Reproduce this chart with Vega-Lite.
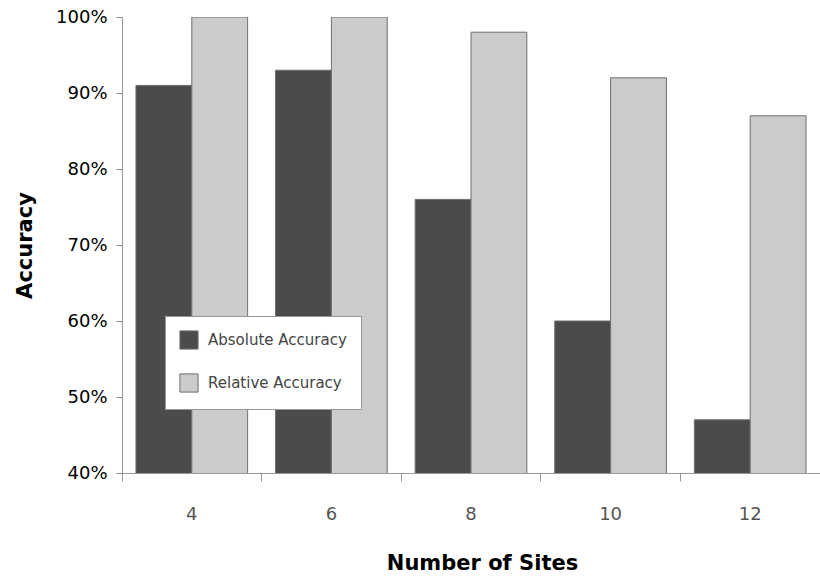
{
  "$schema": "https://vega.github.io/schema/vega-lite/v6.json",
  "autosize": {"type": "none"},
  "padding": {"left": 122, "top": 17, "right": 0, "bottom": 104},
  "width": 698,
  "height": 456,
  "background": "white",
  "config": {
    "view": {"stroke": null},
    "font": "DejaVu Sans"
  },
  "data": {
    "values": [
      {"sites": 4, "type": "Absolute Accuracy", "value": 91},
      {"sites": 4, "type": "Relative Accuracy", "value": 100},
      {"sites": 6, "type": "Absolute Accuracy", "value": 93},
      {"sites": 6, "type": "Relative Accuracy", "value": 100},
      {"sites": 8, "type": "Absolute Accuracy", "value": 76},
      {"sites": 8, "type": "Relative Accuracy", "value": 98},
      {"sites": 10, "type": "Absolute Accuracy", "value": 60},
      {"sites": 10, "type": "Relative Accuracy", "value": 92},
      {"sites": 12, "type": "Absolute Accuracy", "value": 47},
      {"sites": 12, "type": "Relative Accuracy", "value": 87}
    ]
  },
  "mark": {"type": "bar", "stroke": "#6e6e6e", "strokeWidth": 1, "clip": true},
  "encoding": {
    "x": {
      "field": "sites",
      "type": "ordinal",
      "scale": {"paddingInner": 0, "paddingOuter": 0},
      "axis": {
        "title": "Number of Sites",
        "titleFont": "DejaVu Sans",
        "titleFontSize": 21,
        "titleFontWeight": "bold",
        "titleColor": "black",
        "titleX": 360,
        "titleY": 96,
        "titleBaseline": "alphabetic",
        "bandPosition": 0,
        "labelAngle": 0,
        "labelFontSize": 18,
        "labelColor": "#555555",
        "labelPadding": 24,
        "tickSize": 8,
        "tickColor": "#999999",
        "domainColor": "#999999"
      }
    },
    "xOffset": {
      "field": "type",
      "type": "nominal",
      "scale": {"paddingOuter": 0.25, "paddingInner": 0}
    },
    "y": {
      "field": "value",
      "type": "quantitative",
      "scale": {"domain": [40, 100], "nice": false, "zero": false},
      "axis": {
        "title": "Accuracy",
        "titleFontSize": 21,
        "titleFontWeight": "bold",
        "titleColor": "black",
        "titleX": -87,
        "titleY": 228,
        "values": [40, 50, 60, 70, 80, 90, 100],
        "labelExpr": "datum.value + '%'",
        "labelFontSize": 18,
        "labelColor": "black",
        "labelPadding": 9,
        "tickSize": 6,
        "tickColor": "#888888",
        "domainColor": "#999999",
        "grid": false
      }
    },
    "color": {
      "field": "type",
      "type": "nominal",
      "scale": {"domain": ["Absolute Accuracy", "Relative Accuracy"], "range": ["#4b4b4b", "#cbcbcb"]},
      "legend": {
        "title": null,
        "orient": "none",
        "legendX": 43,
        "legendY": 299,
        "fillColor": "white",
        "strokeColor": "#999999",
        "padding": 14,
        "symbolType": "square",
        "symbolSize": 330,
        "symbolStrokeColor": "#6e6e6e",
        "symbolStrokeWidth": 1,
        "symbolOpacity": 1,
        "labelFontSize": 15,
        "labelColor": "#444444",
        "labelOffset": 9,
        "rowPadding": 19
      }
    }
  }
}
